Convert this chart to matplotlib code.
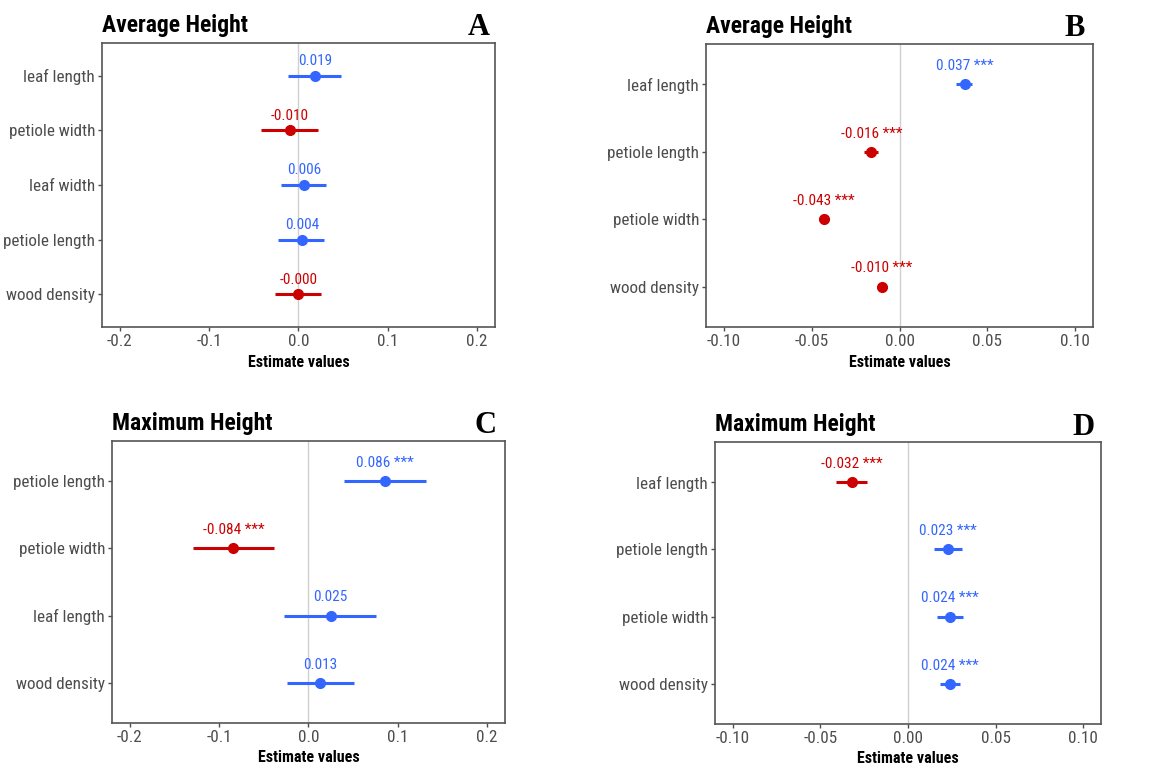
import matplotlib
matplotlib.use("Agg")
import matplotlib.pyplot as plt

plt.rcParams['font.family'] = ['Roboto Condensed', 'DejaVu Sans']

# panel A - average height (model 1)
a_terms = ['leaf length', 'petiole width', 'leaf width', 'petiole length', 'wood density']
a_est = [0.019, -0.010, 0.006, 0.004, -0.0004]
a_lo = [-0.012, -0.042, -0.020, -0.023, -0.026]
a_hi = [0.048, 0.022, 0.031, 0.029, 0.025]
a_sig = ['', '', '', '', '']

# panel B - average height (model 2)
b_terms = ['leaf length', 'petiole length', 'petiole width', 'wood density']
b_est = [0.037, -0.016, -0.043, -0.010]
b_lo = [0.032, -0.020, -0.046, -0.013]
b_hi = [0.041, -0.0125, -0.040, -0.0072]
b_sig = ['***', '***', '***', '***']

# panel C - maximum height (model 1)
c_terms = ['petiole length', 'petiole width', 'leaf length', 'wood density']
c_est = [0.086, -0.084, 0.025, 0.013]
c_lo = [0.0395, -0.129, -0.027, -0.0245]
c_hi = [0.1315, -0.039, 0.0755, 0.0505]
c_sig = ['***', '***', '', '']

# panel D - maximum height (model 2)
d_terms = ['leaf length', 'petiole length', 'petiole width', 'wood density']
d_est = [-0.032, 0.023, 0.024, 0.024]
d_lo = [-0.041, 0.0148, 0.0163, 0.0183]
d_hi = [-0.0232, 0.0306, 0.0312, 0.0298]
d_sig = ['***', '***', '***', '***']

BLUE = '#3366FF'
RED = '#CC0000'
GREY = '#4D4D4D'

fig = plt.figure(figsize=(11.71, 7.74), dpi=100)


def forest(rect, terms, est, lo, hi, sig, lim, ticks, ticklabels, title, letter, letter_xy):
    ax = fig.add_axes(rect)
    n = len(terms)
    ys = list(range(n, 0, -1))
    ax.axvline(0, color='#D0D0D0', lw=1, zorder=0)
    for y, e, l, h, s in zip(ys, est, lo, hi, sig):
        col = RED if e < 0 else BLUE
        ax.plot([l, h], [y, y], color=col, lw=2.2, solid_capstyle='butt')
        ax.plot(e, y, 'o', color=col, ms=7)
        txt = f"{e:.3f}" + (" " + s if s else "")
        ax.text(e, y + 0.27, txt, color=col, ha='center', va='center', fontsize=11)
    ax.set_xlim(-lim, lim)
    ax.set_ylim(0.4, n + 0.6)
    ax.set_yticks(ys)
    ax.set_yticklabels(terms)
    ax.set_xticks(ticks)
    ax.set_xticklabels(ticklabels)
    ax.tick_params(colors=GREY, labelsize=12.3, length=3, width=1, pad=2)
    for sp in ax.spines.values():
        sp.set_color('#555555')
        sp.set_linewidth(1.2)
    ax.set_xlabel('Estimate values', fontsize=11.5, fontweight='bold', labelpad=4)
    ax.set_title(title, loc='left', fontsize=17, fontweight='bold', pad=8)
    fig.text(letter_xy[0], letter_xy[1], letter, ha='right', va='baseline',
             fontsize=22, fontweight='bold', family='Liberation Serif')
    return ax


wide = [-0.2, -0.1, 0.0, 0.1, 0.2]
wide_lab = ['-0.2', '-0.1', '0.0', '0.1', '0.2']
narrow = [-0.10, -0.05, 0.0, 0.05, 0.10]
narrow_lab = ['-0.10', '-0.05', '0.00', '0.05', '0.10']

forest([0.0871, 0.5775, 0.3356, 0.3669], a_terms, a_est, a_lo, a_hi, a_sig,
       0.22, wide, wide_lab, 'Average Height', 'A', (490 / 1171, 1 - 35 / 774))
forest([0.6029, 0.5775, 0.3305, 0.3657], b_terms, b_est, b_lo, b_hi, b_sig,
       0.11, narrow, narrow_lab, 'Average Height', 'B', (1085 / 1171, 1 - 36 / 774))
forest([0.0956, 0.0659, 0.3356, 0.3643], c_terms, c_est, c_lo, c_hi, c_sig,
       0.22, wide, wide_lab, 'Maximum Height', 'C', (496 / 1171, 1 - 433 / 774))
forest([0.6106, 0.0646, 0.3296, 0.3643], d_terms, d_est, d_lo, d_hi, d_sig,
       0.11, narrow, narrow_lab, 'Maximum Height', 'D', (1095 / 1171, 1 - 435 / 774))

fig.savefig('out.png', dpi=100)
